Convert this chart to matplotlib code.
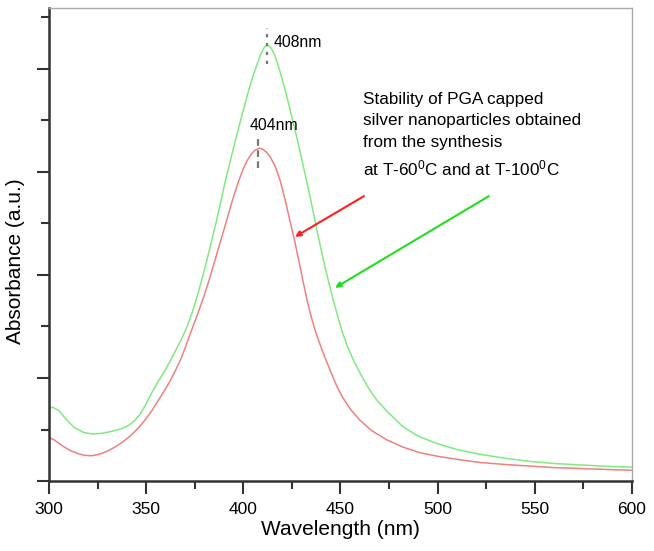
import matplotlib
matplotlib.use('Agg')
import matplotlib.pyplot as plt
from matplotlib.ticker import MultipleLocator, NullFormatter

plt.rcParams['font.family'] = ['Liberation Sans', 'DejaVu Sans']
plt.rcParams['mathtext.fontset'] = 'custom'
plt.rcParams['mathtext.rm'] = 'Liberation Sans'
plt.rcParams['mathtext.default'] = 'regular'

# T-100 C curve (green), labelled 408 nm
wl_green = [300, 302, 305, 309, 313, 318, 323, 328, 333, 337, 341, 344, 347, 350,
            353, 356, 359, 362, 365, 368, 371, 374, 377, 380, 383, 386, 388, 390.6,
            394, 397, 400, 402.5, 405, 407, 409, 411, 412.3, 414, 416, 418, 420,
            422, 424, 426, 428, 430, 432, 434, 436, 438, 440, 442, 444, 446.3,
            448.5, 450.6, 453.5, 456.6, 460, 464, 468.7, 474, 482.3, 490, 499.5,
            510, 521.8, 535, 547.5, 560, 575, 590, 600]
abs_green = [0.141, 0.143, 0.137, 0.119, 0.104, 0.094, 0.091, 0.093, 0.097, 0.101,
             0.108, 0.117, 0.130, 0.150, 0.172, 0.192, 0.210, 0.230, 0.252, 0.274,
             0.299, 0.330, 0.368, 0.410, 0.455, 0.502, 0.535, 0.580, 0.632, 0.677,
             0.720, 0.755, 0.786, 0.808, 0.829, 0.843, 0.847, 0.842, 0.828, 0.806,
             0.780, 0.752, 0.722, 0.691, 0.659, 0.626, 0.592, 0.558, 0.522, 0.485,
             0.450, 0.416, 0.385, 0.351, 0.321, 0.293, 0.262, 0.235, 0.210, 0.183,
             0.157, 0.135, 0.105, 0.087, 0.073, 0.061, 0.052, 0.044, 0.038, 0.034,
             0.031, 0.028, 0.027]

# T-60 C curve (red), labelled 404 nm
wl_red = [300, 303, 307, 311, 315, 318, 322, 326, 330, 334, 338, 342, 346, 350,
          353, 356, 359, 362, 365, 368, 370, 372.6, 376, 379.4, 382, 385, 388, 391,
          394, 397.4, 400, 402, 404, 406, 408.2, 410, 412, 414, 416.5, 418.9,
          421.5, 424, 426.6, 429, 431, 433, 435, 437, 439.5, 442, 445, 448, 451,
          455, 460, 466, 473.8, 482, 490.9, 500, 510, 521.8, 535, 547.5, 560, 575,
          590, 600]
abs_red = [0.085, 0.079, 0.068, 0.059, 0.053, 0.050, 0.049, 0.052, 0.058, 0.066,
           0.076, 0.088, 0.103, 0.121, 0.137, 0.155, 0.173, 0.192, 0.214, 0.238,
           0.258, 0.285, 0.319, 0.355, 0.385, 0.423, 0.462, 0.500, 0.540, 0.580,
           0.606, 0.622, 0.634, 0.642, 0.646, 0.644, 0.638, 0.628, 0.610, 0.584,
           0.546, 0.505, 0.463, 0.420, 0.383, 0.348, 0.318, 0.292, 0.265, 0.240,
           0.212, 0.185, 0.163, 0.140, 0.118, 0.098, 0.080, 0.066, 0.055, 0.048,
           0.042, 0.036, 0.032, 0.029, 0.026, 0.024, 0.022, 0.021]

peak_labels = ['408nm', '404nm']
note = ('Stability of PGA capped\nsilver nanoparticles obtained\n'
        'from the synthesis\nat T-60$^0$C and at T-100$^0$C')

fig = plt.figure(figsize=(6.54, 5.51), dpi=100)
ax = fig.add_axes([0.0749, 0.127, 0.8914, 0.8584])

ax.plot(wl_green, abs_green, color='#80ea80', lw=1.1)
ax.plot(wl_red, abs_red, color='#f08080', lw=1.1)

# peak markers
ax.plot([412.2, 412.2], [0.81, 0.88], color='#777777', lw=1.6, ls=(0, (1.5, 2.5)))
ax.plot([407.8, 407.8], [0.608, 0.666], color='#777777', lw=1.6, ls=(0, (3, 2)))
ax.text(415.8, 0.852, peak_labels[0], fontsize=11.3, va='center', ha='left')
ax.text(403.2, 0.691, peak_labels[1], fontsize=11.3, va='center', ha='left')

ax.text(461.5, 0.671, note, fontsize=12.3, va='center', ha='left', linespacing=1.52)

ax.annotate('', xy=(426.6, 0.474), xytext=(462.1, 0.553),
            arrowprops=dict(arrowstyle='-|>', color='#ff2020', lw=1.5,
                            mutation_scale=8, shrinkA=0, shrinkB=0))
ax.annotate('', xy=(447.2, 0.375), xytext=(526.4, 0.553),
            arrowprops=dict(arrowstyle='-|>', color='#22dd22', lw=1.5,
                            mutation_scale=8, shrinkA=0, shrinkB=0))

ax.set_xlim(300, 600)
ax.set_ylim(0, 0.918)
ax.xaxis.set_major_locator(MultipleLocator(50))
ax.xaxis.set_minor_locator(MultipleLocator(25))
ax.yaxis.set_major_locator(MultipleLocator(0.2))
ax.yaxis.set_minor_locator(MultipleLocator(0.1))
ax.yaxis.set_major_formatter(NullFormatter())
ax.tick_params(axis='both', which='major', direction='out', length=9, width=1.5,
               color='#333333', labelsize=12.5)
ax.tick_params(axis='x', which='major', pad=6)
ax.tick_params(axis='both', which='minor', direction='out', length=6, width=1.5,
               color='#333333')

for s in ['left', 'bottom']:
    ax.spines[s].set_color('#333333')
    ax.spines[s].set_linewidth(1.8)
for s in ['top', 'right']:
    ax.spines[s].set_color('#aaaaaa')
    ax.spines[s].set_linewidth(1.0)

ax.set_xlabel('Wavelength (nm)', fontsize=15, labelpad=2)
ax.set_ylabel('Absorbance (a.u.)', fontsize=15)
ax.yaxis.set_label_coords(-0.041, 0.465)

fig.savefig('out.png', dpi=100)
